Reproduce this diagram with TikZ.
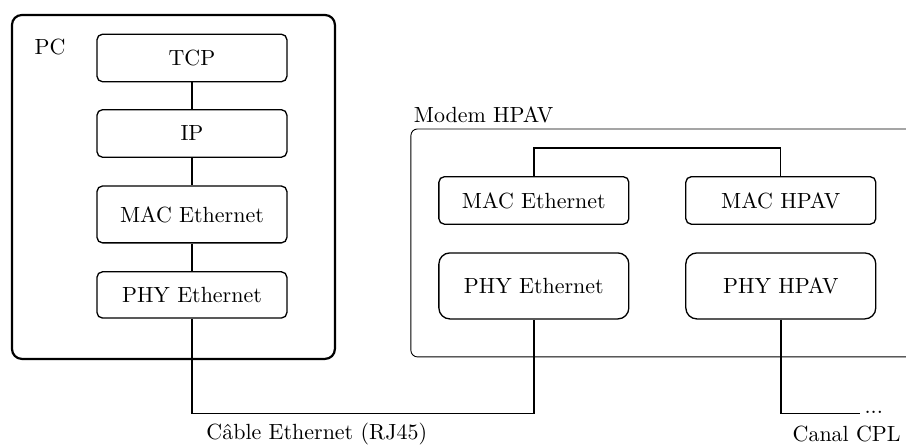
\documentclass[tikz,border=0pt]{standalone}
\usepackage{tikz}
\usetikzlibrary{positioning,calc}

\begin{document}
\begin{tikzpicture}[
  layer/.style={draw,semithick,rounded corners=2.5pt,minimum width=3.04cm,minimum height=0.76cm},
  wire/.style={semithick},
  plc/.style={thick}]
\useasboundingbox (0,0) rectangle (14.5,-7.136);
% PC
\draw[line width=1pt,rounded corners=4.5pt] (0.192,-0.24) rectangle (5.36,-5.744);
\node[anchor=west] (pc) at (0.43,-0.75) {PC};
\node[layer] (tcp) at (3.072,-0.928) {TCP};
\node[layer] (ip) at (3.072,-2.136) {IP};
\node[layer,minimum height=0.91cm] (mace) at (3.072,-3.432) {MAC Ethernet};
\node[layer,minimum height=0.74cm] (phye) at (3.072,-4.72) {PHY Ethernet};
\draw[wire] (tcp) -- (ip) -- (mace) -- (phye);
% Modem
\draw[rounded corners=3pt] (6.576,-2.064) rectangle (14.8,-5.712);
\node[anchor=west] (modem) at (6.5,-1.84) {Modem HPAV};
\node[layer] (mmace) at (8.544,-3.208) {MAC Ethernet};
\node[layer] (mmachpav) at (12.496,-3.208) {MAC HPAV};
\node[layer,minimum height=1.056cm,rounded corners=5pt] (mphye) at (8.544,-4.576) {PHY Ethernet};
\node[layer,minimum height=1.056cm,rounded corners=5pt] (mphyhpav) at (12.496,-4.576) {PHY HPAV};
\coordinate (bus) at (10.52,-2.368);
\draw[wire] (mmace.north) |- (bus) -| (mmachpav.north);
% cable
\coordinate (rj) at (5.8,-6.616);
\draw[wire] (phye.south) |- (rj) -| (mphye.south);
\node (cable) at (5.07,-6.95) {Câble Ethernet (RJ45)};
% CPL
\node[anchor=base west,inner sep=2pt] (dots) at (13.76,-6.616) {...};
\draw[plc] (mphyhpav.south) |- (dots.base west);
\node (canal) at (13.55,-6.95) {Canal CPL};
\end{tikzpicture}
\end{document}
